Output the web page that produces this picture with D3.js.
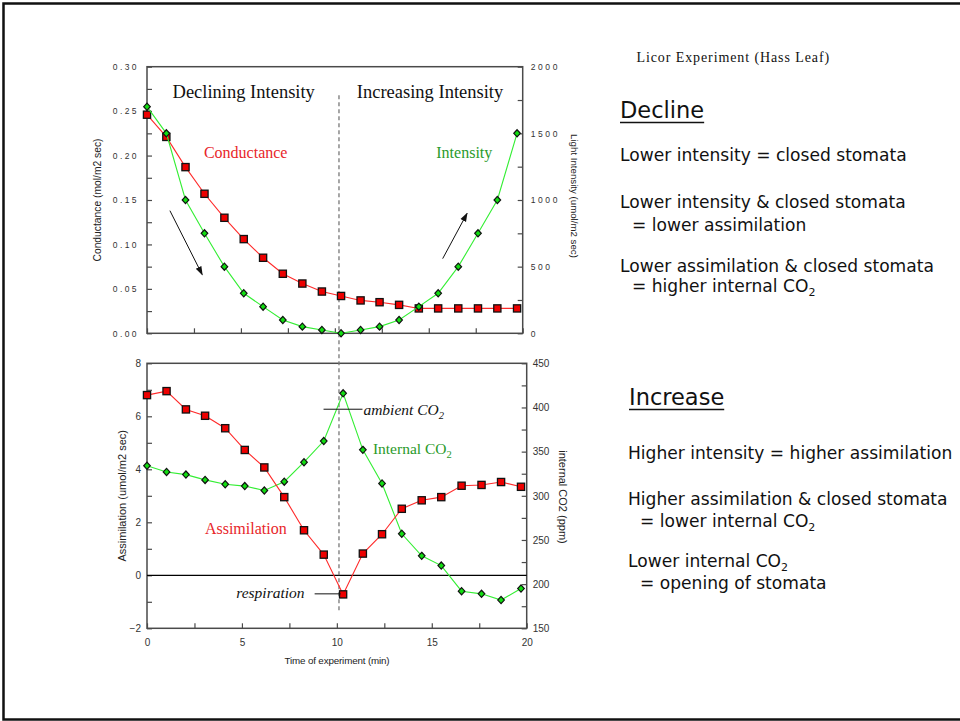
<!DOCTYPE html>
<html>
<head>
<meta charset="utf-8">
<script src="https://cdn.jsdelivr.net/npm/d3@7"></script>
<style>
  html, body { margin: 0; padding: 0; background: #fff; }
  svg { display: block; }
</style>
</head>
<body>
<svg id="chart" width="960" height="721"></svg>
<script>
// ---------------- DATA ----------------
const times = [0, 1.03, 2.05, 3.06, 4.12, 5.15, 6.18, 7.23, 8.27, 9.31, 10.33, 11.37, 12.38, 13.42, 14.47, 15.5, 16.57, 17.62, 18.65, 19.7];
const conductance = [0.246, 0.221, 0.187, 0.157, 0.130, 0.106, 0.085, 0.067, 0.056, 0.047, 0.042, 0.037, 0.035, 0.032, 0.028, 0.028, 0.028, 0.028, 0.028, 0.028];
const intensity = [1700, 1500, 1000, 750, 500, 300, 200, 100, 50, 25, 0, 25, 50, 100, 200, 300, 500, 750, 1000, 1500];
const assimilation = [6.80, 6.95, 6.26, 6.02, 5.55, 4.73, 4.07, 2.95, 1.70, 0.78, -0.72, 0.82, 1.55, 2.51, 2.83, 2.95, 3.38, 3.41, 3.52, 3.34];
const internalCO2 = [334, 327, 324, 318, 313, 311, 306, 316, 338, 362, 416, 352, 314, 257, 232, 221, 192, 189, 182, 195];

const timeTicks = [0, 2.5, 5, 7.5, 10, 12.5, 15, 17.5, 20];
const timeLabels = [0, 5, 10, 15, 20];
const condTicks = [0, 0.025, 0.05, 0.075, 0.1, 0.125, 0.15, 0.175, 0.2, 0.225, 0.25, 0.275, 0.3];
const condLabels = [0, 0.05, 0.1, 0.15, 0.2, 0.25, 0.3];
const intTicks = [0, 250, 500, 750, 1000, 1250, 1500, 1750, 2000];
const intLabels = [0, 500, 1000, 1500, 2000];
const assimTicks = [-2, -1, 0, 1, 2, 3, 4, 5, 6, 7, 8];
const assimLabels = [-2, 0, 2, 4, 6, 8];
const co2Ticks = [150, 175, 200, 225, 250, 275, 300, 325, 350, 375, 400, 425, 450];
const co2Labels = [150, 200, 250, 300, 350, 400, 450];

const rightNotes = [
  {t: "Lower intensity = closed stomata", x: 620, y: 161},
  {t: "Lower intensity & closed stomata", x: 620, y: 208},
  {t: "= lower assimilation", x: 632, y: 230.5},
  {t: "Lower assimilation & closed stomata", x: 620, y: 271.5},
  {t: "= higher internal CO|2", x: 632, y: 292},
  {t: "Higher intensity = higher assimilation", x: 628, y: 459},
  {t: "Higher assimilation & closed stomata", x: 628, y: 505},
  {t: "= lower internal CO|2", x: 640, y: 526.5},
  {t: "Lower internal CO|2", x: 628, y: 567},
  {t: "= opening of stomata", x: 640, y: 588.5}
];

// ---------------- SETUP ----------------
const svg = d3.select("#chart");
const AXIS = "#4a4a4a";
const RED_LINE = "#ff2a2a", RED_FILL = "#ee0000";
const GREEN_LINE = "#33ee33", GREEN_FILL = "#11dd11";
const RED_TXT = "#e8262a", GREEN_TXT = "#2a9a2a";
const SANS = "Liberation Sans, Arial, sans-serif";
const SERIF = "Liberation Serif, Times New Roman, serif";
const NOTE = "DejaVu Sans, sans-serif";

// slide frame
svg.append("rect").attr("x", 3.5).attr("y", 3.5).attr("width", 962).attr("height", 716)
  .attr("fill", "none").attr("stroke", "#111").attr("stroke-width", 2.5);

// scales
const topP = {l: 147, r: 522.7, t: 66.7, b: 333.3};
const botP = {l: 147, r: 526.7, t: 363.3, b: 628.3};
const xT = d3.scaleLinear([0, 20], [topP.l, topP.r]);
const yC = d3.scaleLinear([0, 0.30], [topP.b, topP.t]);
const yI = d3.scaleLinear([0, 2000], [topP.b, topP.t]);
const xB = d3.scaleLinear([0, 20], [botP.l, botP.r]);
const yA = d3.scaleLinear([-2, 8], [botP.b, botP.t]);
const yCO = d3.scaleLinear([150, 450], [botP.b, botP.t]);

function styleAxis(g, fontSize, spacing) {
  g.select(".domain").remove();
  g.selectAll(".tick line").attr("stroke", AXIS).attr("stroke-width", 1.2);
  g.selectAll(".tick text").attr("fill", "#333").style("font-family", SANS)
    .style("font-size", fontSize + "px").style("letter-spacing", spacing + "px");
}
function fmt(labels, f) {
  return v => labels.some(l => Math.abs(l - v) < 1e-9) ? f(v) : "";
}

// ---------------- TOP CHART ----------------
svg.append("g").attr("transform", `translate(${topP.l},0)`)
  .call(d3.axisLeft(yC).tickValues(condTicks).tickSize(-5).tickPadding(8)
    .tickFormat(fmt(condLabels, d3.format(".2f"))))
  .call(g => styleAxis(g, 8.5, 2.4));
svg.append("g").attr("transform", `translate(${topP.r},0)`)
  .call(d3.axisRight(yI).tickValues(intTicks).tickSize(-5).tickPadding(8)
    .tickFormat(fmt(intLabels, d3.format("d"))))
  .call(g => styleAxis(g, 8.5, 2.6));
svg.append("g").attr("transform", `translate(0,${topP.b})`)
  .call(d3.axisBottom(xT).tickValues(timeTicks).tickSize(-5).tickFormat(""))
  .call(g => styleAxis(g, 9, 0));
svg.append("rect").attr("x", topP.l).attr("y", topP.t).attr("width", topP.r - topP.l).attr("height", topP.b - topP.t)
  .attr("fill", "none").attr("stroke", AXIS).attr("stroke-width", 1.5);

// ---------------- BOTTOM CHART ----------------
svg.append("g").attr("transform", `translate(${botP.l},0)`)
  .call(d3.axisLeft(yA).tickValues(assimTicks).tickSize(-5).tickPadding(6)
    .tickFormat(fmt(assimLabels, d3.format("d"))))
  .call(g => styleAxis(g, 10, 0));
svg.append("g").attr("transform", `translate(${botP.r},0)`)
  .call(d3.axisRight(yCO).tickValues(co2Ticks).tickSize(-5).tickPadding(6)
    .tickFormat(fmt(co2Labels, d3.format("d"))))
  .call(g => styleAxis(g, 10, 0));
svg.append("g").attr("transform", `translate(0,${botP.b})`)
  .call(d3.axisBottom(xB).tickValues(timeTicks).tickSize(-5).tickPadding(11)
    .tickFormat(fmt(timeLabels, d3.format("d"))))
  .call(g => styleAxis(g, 10, 0));
svg.append("rect").attr("x", botP.l).attr("y", botP.t).attr("width", botP.r - botP.l).attr("height", botP.b - botP.t)
  .attr("fill", "none").attr("stroke", AXIS).attr("stroke-width", 1.5);
// zero line
svg.append("line").attr("x1", botP.l).attr("x2", botP.r).attr("y1", yA(0)).attr("y2", yA(0))
  .attr("stroke", "#000").attr("stroke-width", 1.2);

// axis titles
function vtitle(x, y, rot, text, size) {
  svg.append("text").attr("transform", `translate(${x},${y}) rotate(${rot})`)
    .attr("text-anchor", "middle").attr("fill", "#222")
    .style("font-family", SANS).style("font-size", size + "px").text(text);
}
vtitle(100.5, (topP.t + topP.b) / 2, -90, "Conductance (mol/m2 sec)", 10.3);
vtitle(570.5, 196, 90, "Light Intensity (umol/m2 sec)", 9.7);
vtitle(125.5, (botP.t + botP.b) / 2, -90, "Assimilation (umol/m2 sec)", 11);
vtitle(559, 497, 90, "internal CO2 (ppm)", 11);
svg.append("text").attr("x", 337).attr("y", 664).attr("text-anchor", "middle")
  .attr("fill", "#222").style("font-family", SANS).style("font-size", "9.8px")
  .style("letter-spacing", "-0.15px").text("Time of experiment (min)");

// dashed divider
svg.append("line").attr("x1", xT(10.22)).attr("x2", xT(10.22)).attr("y1", yI(1785)).attr("y2", yA(-1.35))
  .attr("stroke", "#777").attr("stroke-width", 1.3).attr("stroke-dasharray", "4,3");

// ---------------- SERIES ----------------
function series(xs, ys, vals, lineColor, fill, shape) {
  const pts = times.map((t, i) => [xs(t), ys(vals[i])]);
  svg.append("path").attr("d", d3.line()(pts)).attr("fill", "none")
    .attr("stroke", lineColor).attr("stroke-width", 1.1);
  const g = svg.append("g");
  if (shape === "square") {
    g.selectAll("rect").data(pts).join("rect")
      .attr("x", d => d[0] - 3.6).attr("y", d => d[1] - 3.6)
      .attr("width", 7.2).attr("height", 7.2)
      .attr("fill", fill).attr("stroke", "#111").attr("stroke-width", 1.3);
  } else {
    g.selectAll("path").data(pts).join("path")
      .attr("d", d => `M${d[0]},${d[1] - 3.6}L${d[0] + 3.3},${d[1]}L${d[0]},${d[1] + 3.6}L${d[0] - 3.3},${d[1]}Z`)
      .attr("fill", fill).attr("stroke", "#111").attr("stroke-width", 1.2);
  }
}
series(xT, yC, conductance, RED_LINE, RED_FILL, "square");
series(xT, yI, intensity, GREEN_LINE, GREEN_FILL, "diamond");
series(xB, yCO, internalCO2, GREEN_LINE, GREEN_FILL, "diamond");
series(xB, yA, assimilation, RED_LINE, RED_FILL, "square");

// ---------------- ANNOTATIONS ----------------
svg.append("defs").append("marker").attr("id", "ah").attr("viewBox", "0 0 10 10")
  .attr("refX", 9).attr("refY", 5).attr("markerWidth", 9).attr("markerHeight", 9)
  .attr("markerUnits", "userSpaceOnUse").attr("orient", "auto")
  .append("path").attr("d", "M0,1.5L10,5L0,8.5Z").attr("fill", "#111");
function arrow(t1, c1, t2, c2) {
  svg.append("line").attr("x1", xT(t1)).attr("y1", yC(c1)).attr("x2", xT(t2)).attr("y2", yC(c2))
    .attr("stroke", "#111").attr("stroke-width", 1).attr("marker-end", "url(#ah)");
}
arrow(1.22, 0.138, 2.94, 0.066);
arrow(15.74, 0.084, 17.04, 0.135);

function label(x, y, text, color, size, italic, anchor) {
  const parts = text.split("|");
  const t = svg.append("text").attr("x", x).attr("y", y).attr("fill", color)
    .attr("text-anchor", anchor || "start")
    .style("font-family", SERIF).style("font-size", size + "px")
    .style("font-style", italic ? "italic" : "normal");
  t.append("tspan").text(parts[0]);
  if (parts[1]) t.append("tspan").attr("dy", 4).style("font-size", (size * 0.68) + "px").text(parts[1]);
  return t;
}
label(xT(1.36), 97.5, "Declining Intensity", "#111", 18.5);
label(xT(11.17), 97.5, "Increasing Intensity", "#111", 18.5);
label(xT(3.03), 157.5, "Conductance", RED_TXT, 16);
label(xT(15.4), 157.5, "Intensity", GREEN_TXT, 16);
label(xB(11.4), 414.5, "ambient CO|2", "#111", 15.5, true);
label(xB(11.9), 453.5, "Internal CO|2", GREEN_TXT, 15.5);
label(xB(3.05), 533.5, "Assimilation", RED_TXT, 16);
label(xB(4.7), 597.5, "respiration", "#111", 15.5, true);
// annotation leader lines
svg.append("line").attr("x1", xB(9.3)).attr("x2", xB(11.35)).attr("y1", yCO(398)).attr("y2", yCO(398))
  .attr("stroke", "#111").attr("stroke-width", 1);
svg.append("line").attr("x1", xB(8.83)).attr("x2", xB(10.2)).attr("y1", yA(-0.7)).attr("y2", yA(-0.7))
  .attr("stroke", "#111").attr("stroke-width", 1);

// ---------------- RIGHT TEXT ----------------
svg.append("text").attr("x", 636.5).attr("y", 61.5).attr("fill", "#111")
  .style("font-family", SERIF).style("font-size", "14px").style("letter-spacing", "0.9px")
  .text("Licor Experiment (Hass Leaf)");

function heading(x, y, text) {
  const t = svg.append("text").attr("x", x).attr("y", y).attr("fill", "#111")
    .style("font-family", NOTE).style("font-size", "22.5px").text(text);
  const w = t.node().getComputedTextLength();
  svg.append("line").attr("x1", x).attr("x2", x + w).attr("y1", y + 5).attr("y2", y + 5)
    .attr("stroke", "#111").attr("stroke-width", 1.5);
}
heading(620, 117.5, "Decline");
heading(629, 404.5, "Increase");

rightNotes.forEach(n => {
  const parts = n.t.split("|");
  const t = svg.append("text").attr("x", n.x).attr("y", n.y).attr("fill", "#111")
    .style("font-family", NOTE).style("font-size", "17.1px");
  t.append("tspan").text(parts[0]);
  if (parts[1]) t.append("tspan").attr("dy", 4).style("font-size", "11px").text(parts[1]);
});
</script>
</body>
</html>
